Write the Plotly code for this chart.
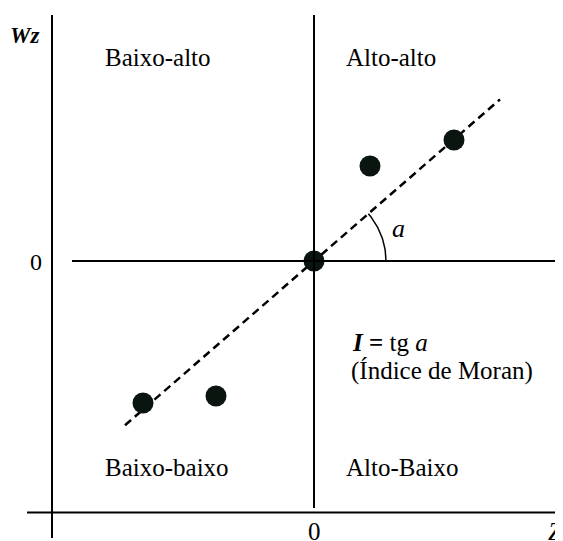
import numpy as np
import plotly.graph_objects as go

# Data (standardized Z vs spatial lag Wz)
z_vals = [-1.71, -0.98, 0.0, 0.56, 1.40]
wz_vals = [-1.42, -1.35, 0.0, 0.95, 1.21]
slope = 0.869
line_x = [-1.89, 1.86]
quadrant_labels = ["Baixo-alto", "Alto-alto", "Baixo-baixo", "Alto-Baixo"]

FONT = "Liberation Serif"
fig = go.Figure()

# regression (dashed) line
fig.add_trace(go.Scatter(x=line_x, y=[slope * v for v in line_x], mode="lines",
                         line=dict(color="black", width=2.5, dash="8px,5px"), hoverinfo="skip"))
# angle arc
ang = np.linspace(0, np.arctan(slope), 40)
fig.add_trace(go.Scatter(x=0.72 * np.cos(ang), y=0.72 * np.sin(ang), mode="lines",
                         line=dict(color="black", width=1.5), hoverinfo="skip"))
# points
fig.add_trace(go.Scatter(x=z_vals, y=wz_vals, mode="markers",
                         marker=dict(size=21, color="#0b150f", line=dict(width=0))))

# axes lines
line = dict(color="black", width=2)
fig.add_shape(type="line", x0=0, x1=0, y0=2.46, y1=-2.47, line=line)
fig.add_shape(type="line", x0=-2.42, x1=2.6, y0=0, y1=0, line=line)
fig.add_shape(type="line", x0=-2.62, x1=-2.62, y0=2.46, y1=-2.77, line=line)
fig.add_shape(type="line", x0=-2.87, x1=2.6, y0=-2.515, y1=-2.515, line=line)

def txt(x, y, s, size=25):
    fig.add_annotation(x=x, y=y, text=s, showarrow=False,
                       font=dict(family=FONT, size=size, color="black"))

txt(-1.565, 2.04, quadrant_labels[0])
txt(0.77, 2.04, quadrant_labels[1])
txt(-1.475, -2.06, quadrant_labels[2])
txt(0.885, -2.06, quadrant_labels[3])
txt(-2.90, 2.26, "<b><i>Wz</i></b>", size=23)
txt(-2.78, -0.01, "0", size=24)
txt(0.0, -2.70, "0", size=25)
txt(2.41, -2.70, "<i>Z</i>", size=25)
txt(0.84, 0.33, "<i>a</i>", size=26)
txt(0.76, -0.81, "<b><i>I</i> =</b> tg <i>a</i>")
txt(1.28, -1.10, "(Índice de Moran)")

# the page body adds an 8px offset, so the figure is sized to fit the window
fig.update_layout(
    width=555, height=533, margin=dict(l=0, r=0, t=0, b=0),
    paper_bgcolor="white", plot_bgcolor="white", showlegend=False,
    xaxis=dict(range=[-3.06, 2.49], visible=False, fixedrange=True),
    yaxis=dict(range=[-2.80, 2.53], visible=False, fixedrange=True),
)
fig.write_html("out.html")
